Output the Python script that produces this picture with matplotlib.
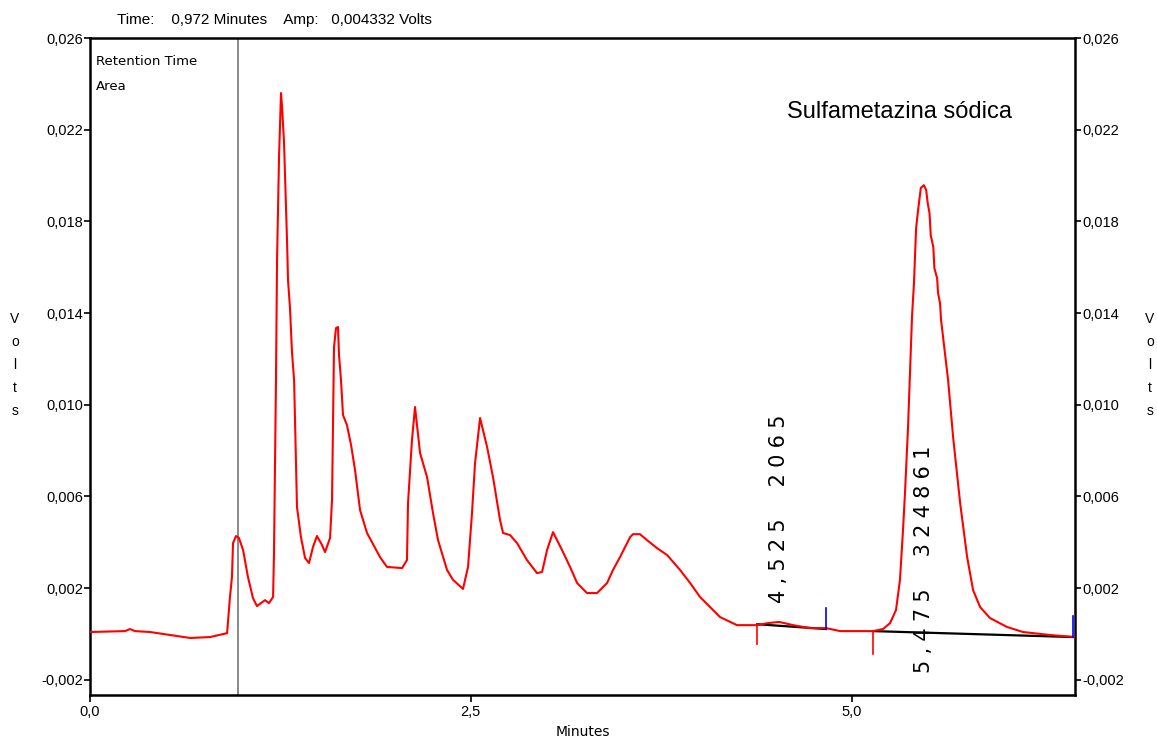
"""
=========================================================
Chromatogram - Sulfametazina sódica
=========================================================
"""

import matplotlib
matplotlib.use("Agg")
import matplotlib.pyplot as plt

# =========================================================
# DATA
# =========================================================

minutes = [
    0.000, 0.230, 0.263, 0.295, 0.394, 0.525, 0.657, 0.788, 0.900, 0.919,
    0.932, 0.939, 0.959, 0.978, 1.005, 1.037, 1.070, 1.096, 1.149, 1.175,
    1.202, 1.208, 1.221, 1.228, 1.241, 1.254, 1.261, 1.274, 1.294, 1.300,
    1.313, 1.326, 1.340, 1.359, 1.385, 1.412, 1.438, 1.464, 1.490, 1.523,
    1.543, 1.576, 1.589, 1.602, 1.615, 1.628, 1.635, 1.648, 1.661, 1.687,
    1.714, 1.740, 1.773, 1.819, 1.904, 1.950, 2.049, 2.081, 2.088, 2.114,
    2.134, 2.167, 2.213, 2.252, 2.285, 2.344, 2.383, 2.449, 2.482, 2.508,
    2.528, 2.561, 2.607, 2.646, 2.692, 2.712, 2.758, 2.804, 2.869, 2.935,
    2.968, 3.001, 3.040, 3.099, 3.152, 3.198, 3.263, 3.329, 3.395, 3.434,
    3.480, 3.546, 3.565, 3.611, 3.657, 3.723, 3.789, 3.874, 3.940, 4.005,
    4.071, 4.137, 4.248, 4.380, 4.452, 4.525, 4.616, 4.727, 4.833, 4.925,
    5.141, 5.207, 5.253, 5.292, 5.318, 5.338, 5.351, 5.371, 5.397, 5.410,
    5.424, 5.437, 5.455, 5.475, 5.490, 5.500, 5.512, 5.520, 5.537, 5.544,
    5.562, 5.568, 5.581, 5.588, 5.634, 5.667, 5.713, 5.759, 5.798, 5.844,
    5.909, 6.021, 6.126, 6.303, 6.467,
]

volts = [
    0.00008, 0.00012, 0.00021, 0.00012, 0.00008, -0.00005, -0.00018, -0.00014, 0.00003, 0.00161,
    0.00248, 0.00396, 0.00427, 0.00418, 0.00366, 0.00248, 0.00156, 0.00121, 0.00147, 0.00134,
    0.00161, 0.00353, 0.01107, 0.01631, 0.02080, 0.02360, 0.02299, 0.02142, 0.01705, 0.01544,
    0.01422, 0.01230, 0.01107, 0.00553, 0.00422, 0.00331, 0.00309, 0.00379, 0.00427, 0.00388,
    0.00357, 0.00418, 0.00584, 0.01251, 0.01334, 0.01339, 0.01216, 0.01107, 0.00955, 0.00911,
    0.00824, 0.00715, 0.00540, 0.00440, 0.00335, 0.00292, 0.00287, 0.00322, 0.00571, 0.00846,
    0.00990, 0.00789, 0.00684, 0.00527, 0.00409, 0.00279, 0.00236, 0.00196, 0.00292, 0.00527,
    0.00745, 0.00942, 0.00816, 0.00684, 0.00497, 0.00440, 0.00431, 0.00396, 0.00322, 0.00265,
    0.00270, 0.00366, 0.00444, 0.00366, 0.00292, 0.00222, 0.00178, 0.00178, 0.00222, 0.00279,
    0.00335, 0.00422, 0.00435, 0.00435, 0.00409, 0.00374, 0.00344, 0.00279, 0.00222, 0.00161,
    0.00117, 0.00073, 0.00038, 0.00038, 0.00047, 0.00052, 0.00038, 0.00025, 0.00025, 0.00012,
    0.00012, 0.00021, 0.00047, 0.00104, 0.00236, 0.00454, 0.00615, 0.00903, 0.01383, 0.01532,
    0.01771, 0.01850, 0.01946, 0.01958, 0.01937, 0.01880, 0.01836, 0.01740, 0.01688, 0.01596,
    0.01552, 0.01487, 0.01443, 0.01369, 0.01107, 0.00858, 0.00571, 0.00335, 0.00191, 0.00117,
    0.00069, 0.00030, 0.00008, -0.00005, -0.00014,
]

# integrated peaks
peak_rt = [4.525, 5.475]
peak_area = [2065, 324861]
peak_start = [4.380, 5.141]
peak_end = [4.833, 6.455]
base_start = [0.00042, 0.00012]
base_end = [0.00021, -0.00014]

cursor_time = 0.972
cursor_amp = 0.004332

y_ticks = [-0.002, 0.002, 0.006, 0.010, 0.014, 0.018, 0.022, 0.026]
y_labels = ["-0,002", "0,002", "0,006", "0,010", "0,014", "0,018", "0,022", "0,026"]
x_ticks = [0.0, 2.5, 5.0]
x_labels = ["0,0", "2,5", "5,0"]

# =========================================================
# HELPERS
# =========================================================

def spaced(text):

    """
    Wide letter spacing like the integrator printout.
    """

    return "\u2009\u200a".join(text)

# =========================================================
# FIGURE
# =========================================================

plt.rcParams["font.family"] = ["Liberation Sans", "DejaVu Sans"]

fig = plt.figure(figsize=(11.57, 7.42), dpi=100)

ax = fig.add_axes([0.0778, 0.0633, 0.8513, 0.8854])

ax.set_xlim(0, 6.467)
ax.set_ylim(-0.00267, 0.026)

# trace
ax.plot(minutes, volts, color="#ff0000", linewidth=1.5, zorder=3)

# cursor
ax.axvline(cursor_time, color="#808080", linewidth=1.3, zorder=2)

# baselines and peak markers
start_drop = [0.00088, 0.00100]

for i in range(len(peak_rt)):

    ax.plot(
        [peak_start[i], peak_end[i]],
        [base_start[i], base_end[i]],
        color="black",
        linewidth=1.6,
        zorder=2
    )

    ax.plot(
        [peak_start[i], peak_start[i]],
        [base_start[i], base_start[i] - start_drop[i]],
        color="#ff0000",
        linewidth=1.2,
        zorder=4
    )

    ax.plot(
        [peak_end[i], peak_end[i]],
        [base_end[i], base_end[i] + 0.00090],
        color="#0000ff",
        linewidth=1.2,
        zorder=4
    )

# peak labels: retention time and area
label_bottom = [0.00134, -0.00171]

for i in range(len(peak_rt)):

    rt = f"{peak_rt[i]:.3f}".replace(".", ",")

    ax.text(
        peak_rt[i],
        label_bottom[i],
        spaced(f"{rt}  {peak_area[i]}"),
        rotation=90,
        ha="center",
        va="bottom",
        fontsize=15,
        family=["DejaVu Sans"],
        zorder=5
    )

# axes styling
for side in ax.spines.values():
    side.set_linewidth(1.8)

ax.set_yticks(y_ticks)
ax.set_yticklabels(y_labels)
ax.set_xticks(x_ticks)
ax.set_xticklabels(x_labels)

ax.tick_params(
    axis="y",
    direction="out",
    length=4,
    width=1.2,
    pad=1,
    labelsize=10.5,
    right=True,
    labelright=True
)

ax.tick_params(
    axis="x",
    direction="out",
    length=5,
    width=1.2,
    pad=2,
    labelsize=10.5
)

ax.text(
    0.006,
    0.974,
    "Retention Time\nArea",
    transform=ax.transAxes,
    ha="left",
    va="top",
    fontsize=9.5,
    family=["DejaVu Sans"],
    linespacing=2.2
)

ax.text(
    0.7076,
    0.878,
    "Sulfametazina sódica",
    transform=ax.transAxes,
    ha="left",
    va="baseline",
    fontsize=17
)

time_txt = f"{cursor_time:.3f}".replace(".", ",")
amp_txt = f"{cursor_amp:.6f}".replace(".", ",")

fig.text(
    117 / 1157,
    1 - 20 / 742,
    f"Time:    {time_txt} Minutes    Amp:   {amp_txt} Volts",
    ha="left",
    va="center",
    fontsize=11
)

fig.text(
    583 / 1157,
    1 - 732 / 742,
    "Minutes",
    ha="center",
    va="center",
    fontsize=10,
    family=["DejaVu Sans"]
)

for xpos in [15, 1150]:

    fig.text(
        xpos / 1157,
        1 - 365 / 742,
        "\n".join("Volts"),
        ha="center",
        va="center",
        fontsize=10,
        linespacing=1.8
    )

fig.savefig("out.png", dpi=100, facecolor="white")
